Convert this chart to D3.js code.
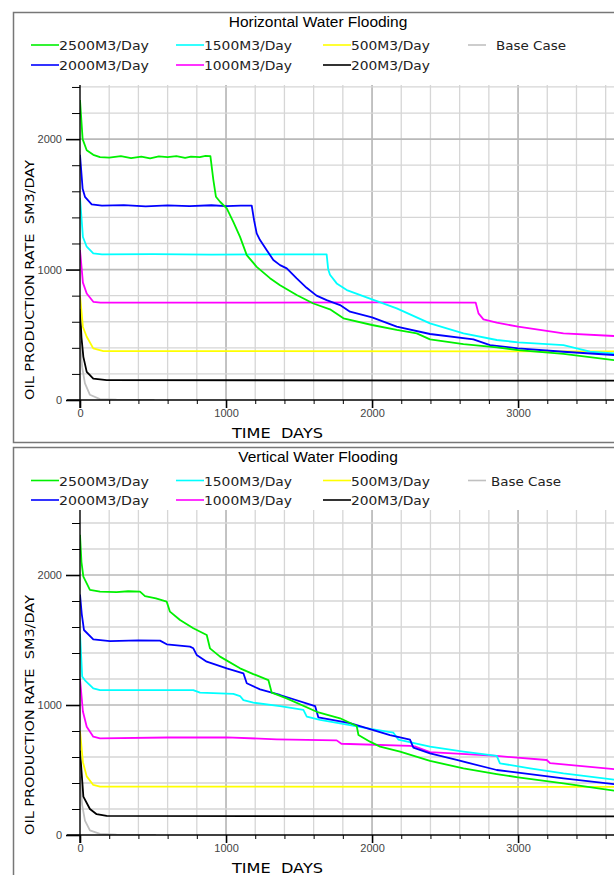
<!DOCTYPE html>
<html>
<head>
<meta charset="utf-8">
<script src="https://cdn.jsdelivr.net/npm/d3@7"></script>
<style>
  body { margin: 0; background: #fff; }
  svg { display: block; }
</style>
</head>
<body>
<div id="chart"></div>
<script>
// series names / colours (legend order: row 1, then row 2)
const seriesNames = ["2500M3/Day", "1500M3/Day", "500M3/Day", "Base Case", "2000M3/Day", "1000M3/Day", "200M3/Day"];
const seriesColors = ["#00f000", "#00ffff", "#ffff00", "#c0c0c0", "#0000ff", "#ff00ff", "#000000"];

const xTicks = [0, 1000, 2000, 3000];
const yTicks = [0, 1000, 2000];

// Horizontal water flooding: [day, SM3/day]
const h2500 = [[0,2300],[18,2000],[46,1915],[91,1880],[137,1862],[200,1858],[280,1870],[350,1855],[420,1866],[480,1852],[540,1868],[600,1862],[660,1870],[720,1856],[760,1866],[820,1862],[860,1872],[893,1870],[913,1690],[931,1558],[959,1520],[1005,1469],[1050,1366],[1096,1251],[1142,1111],[1210,1021],[1301,934],[1370,880],[1484,805],[1598,740],[1712,695],[1804,626],[2000,575],[2169,537],[2306,511],[2397,465],[2626,429],[2854,404],[3000,383],[3311,353],[3700,300]];
const h2000 = [[0,1880],[18,1620],[34,1558],[80,1500],[150,1490],[300,1494],[450,1484],[600,1492],[750,1486],[900,1493],[1000,1486],[1100,1490],[1176,1490],[1192,1379],[1210,1277],[1233,1226],[1279,1149],[1324,1073],[1370,1034],[1416,1009],[1484,932],[1552,860],[1620,800],[1689,766],[1781,728],[1849,677],[2000,634],[2169,562],[2397,506],[2694,465],[2808,421],[3000,396],[3311,370],[3700,342]];
const h1500 = [[0,1550],[20,1250],[46,1175],[91,1124],[150,1116],[500,1118],[900,1114],[1300,1117],[1689,1116],[1700,1000],[1712,960],[1758,894],[1827,843],[2000,771],[2169,702],[2397,587],[2626,510],[2854,460],[3000,442],[3311,421],[3402,396],[3493,370],[3700,355]];
const h1000 = [[0,1150],[20,900],[46,817],[91,753],[140,746],[1000,746],[2000,748],[2710,746],[2729,664],[2763,618],[2854,593],[3000,562],[3311,511],[3700,488]];
const h500 = [[0,800],[20,560],[46,485],[91,396],[160,375],[3700,372]];
const h200 = [[0,700],[10,480],[23,331],[46,216],[91,164],[183,153],[3700,148]];
const hBase = [[0,450],[15,250],[34,128],[68,40],[137,7],[250,2],[510,0]];

// Vertical water flooding: [day, SM3/day]
const v2500 = [[0,2310],[10,2100],[23,1987],[68,1885],[137,1872],[250,1868],[330,1875],[411,1872],[445,1838],[520,1820],[594,1795],[616,1718],[685,1654],[776,1590],[868,1538],[890,1436],[959,1372],[1096,1282],[1187,1238],[1290,1192],[1313,1095],[1415,1051],[1621,948],[1781,898],[1895,838],[1907,769],[1986,718],[2055,680],[2192,641],[2397,570],[2626,513],[2854,469],[3000,444],[3311,397],[3700,335]];
const v2000 = [[0,1850],[12,1700],[27,1577],[91,1505],[205,1492],[400,1497],[548,1495],[594,1467],[753,1449],[776,1436],[799,1385],[868,1333],[1005,1282],[1119,1244],[1142,1167],[1233,1120],[1370,1077],[1610,992],[1632,905],[1849,861],[2123,769],[2260,733],[2283,672],[2397,628],[2580,577],[2854,500],[3000,479],[3311,436],[3700,385]];
const v1500 = [[0,1550],[15,1218],[34,1190],[91,1128],[137,1115],[776,1115],[822,1095],[1050,1085],[1096,1069],[1119,1038],[1187,1018],[1370,992],[1530,962],[1553,910],[1644,885],[1849,846],[2000,815],[2146,787],[2180,734],[2397,679],[2626,641],[2854,608],[2876,551],[3082,513],[3311,474],[3700,420]];
const v1000 = [[0,1200],[20,950],[46,833],[91,756],[137,744],[600,750],[1005,751],[1347,736],[1758,728],[1790,702],[2260,685],[2300,679],[2397,637],[2854,608],[3196,577],[3219,553],[3700,502]];
const v500 = [[0,800],[20,560],[46,451],[91,385],[137,372],[3700,370]];
const v200 = [[0,650],[23,295],[68,200],[114,160],[183,147],[3700,143]];
const vBase = [[0,450],[15,230],[34,110],[68,35],[137,8],[250,2],[520,0]];

const width = 614, height = 875;

const svg = d3.select("#chart").append("svg")
    .attr("width", width)
    .attr("height", height)
    .style("font-family", "'DejaVu Sans', sans-serif");

function drawPanel(opt) {
    const g = svg.append("g").attr("transform", `translate(0, ${opt.dy})`);
    const y0 = 400;

    // panel frame
    g.append("rect")
        .attr("x", 13.5).attr("y", opt.frameTop)
        .attr("width", 700).attr("height", opt.frameH)
        .attr("fill", "none").attr("stroke", "#777").attr("stroke-width", 1.5);

    const x = d3.scaleLinear().domain([0, 3657]).range([80, 614]);
    const y = d3.scaleLinear().domain([0, opt.yMax]).range([y0, opt.yTop]);

    // title
    g.append("text")
        .attr("x", 318).attr("y", 27)
        .attr("text-anchor", "middle")
        .style("font-family", "'Liberation Sans', Arial, sans-serif")
        .style("font-size", "15.5px")
        .text(opt.title);

    // legend
    const cols = [31, 176, 323, 468];
    const textW = [90, 88, 79, 70, 90, 88, 79];
    seriesNames.forEach((name, i) => {
        const col = i % 4, row = Math.floor(i / 4);
        const lx = cols[col];
        const ly = opt.legendY[row];
        const lineLen = col === 3 ? 18 : 28;
        g.append("line")
            .attr("x1", lx).attr("x2", lx + lineLen)
            .attr("y1", ly - 5).attr("y2", ly - 5)
            .attr("stroke", seriesColors[i]).attr("stroke-width", 1.6);
        const tx = col === 3 ? lx + lineLen + opt.baseGap : lx + lineLen;
        g.append("text")
            .attr("x", tx).attr("y", ly)
            .attr("textLength", textW[i]).attr("lengthAdjust", "spacingAndGlyphs")
            .style("font-size", "13px").style("fill", "#222")
            .text(name);
    });

    // grid
    const grid = g.append("g");
    d3.range(200, 3700, 200).forEach(d => {
        grid.append("line")
            .attr("x1", x(d)).attr("x2", x(d))
            .attr("y1", opt.yTop).attr("y2", y0)
            .attr("stroke", d % 1000 === 0 ? "#b9b9b9" : "#d6d6d6")
            .attr("stroke-width", d % 1000 === 0 ? 1.7 : 1.3);
    });
    d3.range(200, opt.yMax, 200).forEach(v => {
        grid.append("line")
            .attr("x1", 80).attr("x2", width)
            .attr("y1", y(v)).attr("y2", y(v))
            .attr("stroke", v % 1000 === 0 ? "#b9b9b9" : "#d6d6d6")
            .attr("stroke-width", v % 1000 === 0 ? 1.7 : 1.3);
    });

    // curves
    const clipId = "clip" + opt.dy;
    g.append("clipPath").attr("id", clipId)
        .append("rect").attr("x", 80).attr("y", opt.yTop - 5)
        .attr("width", width - 80).attr("height", y0 - opt.yTop + 5);

    const line = d3.line().x(d => x(d[0])).y(d => y(d[1]));
    const drawOrder = [3, 6, 2, 5, 1, 4, 0];
    drawOrder.forEach(i => {
        g.append("path")
            .datum(opt.series[i])
            .attr("clip-path", `url(#${clipId})`)
            .attr("fill", "none")
            .attr("stroke", seriesColors[i])
            .attr("stroke-width", 1.8)
            .attr("stroke-linejoin", "round")
            .attr("d", line);
    });

    // y axis
    const yAxis = g.append("g")
        .attr("transform", "translate(80,0)")
        .call(d3.axisLeft(y)
            .tickValues(d3.range(0, opt.yMax, 200))
            .tickSize(8)
            .tickFormat(v => yTicks.includes(v) ? v : ""));
    yAxis.select(".domain").remove();
    yAxis.selectAll(".tick line")
        .attr("x2", v => v % 1000 === 0 ? -14 : -8)
        .attr("stroke", "#000").attr("stroke-width", v => v % 1000 === 0 ? 1.6 : 1);
    yAxis.selectAll(".tick text")
        .attr("x", -18)
        .style("font-family", "'Liberation Sans', Arial, sans-serif")
        .style("font-size", "11px").style("fill", "#444");
    g.append("line")
        .attr("x1", 80).attr("x2", 80)
        .attr("y1", opt.yTop).attr("y2", y0 + 8)
        .attr("stroke", "#000").attr("stroke-width", 1.4);

    // x axis
    const xAxis = g.append("g")
        .attr("transform", `translate(0,${y0})`)
        .call(d3.axisBottom(x)
            .tickValues(d3.range(0, 3700, 200))
            .tickSize(5)
            .tickFormat(d => xTicks.includes(d) ? d : ""));
    xAxis.select(".domain").remove();
    xAxis.selectAll(".tick line")
        .attr("y2", d => d % 1000 === 0 ? 8 : 4)
        .attr("stroke", "#000").attr("stroke-width", d => d % 1000 === 0 ? 1.6 : 1);
    xAxis.selectAll(".tick text")
        .attr("y", 9)
        .style("font-family", "'Liberation Sans', Arial, sans-serif")
        .style("font-size", "11px").style("fill", "#444");
    g.append("line")
        .attr("x1", 67).attr("x2", width)
        .attr("y1", y0).attr("y2", y0)
        .attr("stroke", "#000").attr("stroke-width", 1.4);

    // axis titles
    g.append("text")
        .attr("x", 232).attr("y", 438)
        .attr("textLength", 91).attr("lengthAdjust", "spacingAndGlyphs")
        .style("white-space", "pre")
        .style("font-size", "14px")
        .text("TIME  DAYS");

    g.append("text")
        .attr("transform", "translate(34,400) rotate(-90)")
        .attr("textLength", 240).attr("lengthAdjust", "spacingAndGlyphs")
        .style("white-space", "pre")
        .style("font-size", "13px")
        .text("OIL PRODUCTION RATE  SM3/DAY");
}

drawPanel({
    dy: 0, frameTop: 12.5, frameH: 430,
    title: "Horizontal Water Flooding",
    legendY: [50, 70], baseGap: 10,
    yMax: 2415, yTop: 85,
    series: [h2500, h1500, h500, hBase, h2000, h1000, h200]
});

drawPanel({
    dy: 435, frameTop: 12.5, frameH: 500,
    title: "Vertical Water Flooding",
    legendY: [50.5, 70], baseGap: 5,
    yMax: 2500, yTop: 75,
    series: [v2500, v1500, v500, vBase, v2000, v1000, v200]
});
</script>
</body>
</html>
